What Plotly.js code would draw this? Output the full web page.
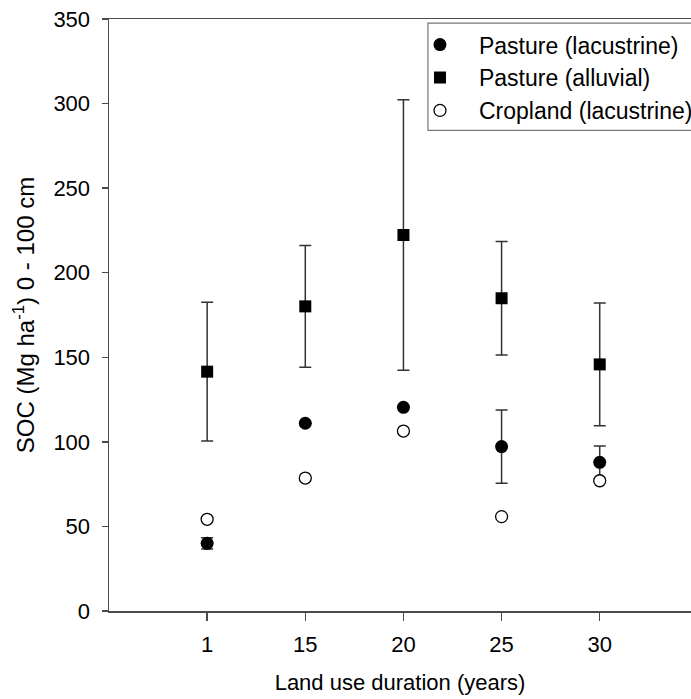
<!DOCTYPE html>
<html>
<head>
<meta charset="utf-8">
<script src="https://cdn.plot.ly/plotly-3.0.1.min.js"></script>
<style>
  html, body { margin: 0; padding: 0; background: #fff; }
  #chart { width: 691px; height: 699px; }
</style>
</head>
<body>
<div id="chart"></div>
<script>
// Land use duration classes (years)
const durations = ["1", "15", "20", "25", "30"];

// SOC stocks, 0-100 cm (Mg ha-1)
const pastureLacustrine = [40, 111, 120.4, 97.2, 87.9];
const pastureLacustrineErr = [3.3, 0, 0, 21.7, 9.7];

const pastureAlluvial = [141.5, 180.1, 222.3, 184.9, 145.8];
const pastureAlluvialErr = [41, 36, 80, 33.5, 36.3];

const croplandLacustrine = [54.2, 78.6, 106.4, 55.8, 77.0];

const seriesNames = ["Pasture (lacustrine)", "Pasture (alluvial)", "Cropland (lacustrine)"];

const FONT = "Liberation Sans, Arial, Helvetica, sans-serif";
const AXIS = "#4a4a4a";

const errStyle = (vals) => ({
  type: "data", array: vals, symmetric: true, visible: true,
  color: "#333333", thickness: 1.5, width: 6
});

const traces = [
  {
    x: durations, y: pastureLacustrine, name: seriesNames[0],
    type: "scatter", mode: "markers",
    marker: { symbol: "circle", size: 13, color: "#000" },
    error_y: errStyle(pastureLacustrineErr)
  },
  {
    x: durations, y: pastureAlluvial, name: seriesNames[1],
    type: "scatter", mode: "markers",
    marker: { symbol: "square", size: 12, color: "#000" },
    error_y: errStyle(pastureAlluvialErr)
  },
  {
    x: durations, y: croplandLacustrine, name: seriesNames[2],
    type: "scatter", mode: "markers",
    marker: { symbol: "circle", size: 12, color: "#fff", line: { color: "#000", width: 1.3 } }
  }
];

const layout = {
  width: 691, height: 699,
  margin: { l: 109, r: 0, t: 19, b: 88, autoexpand: false },
  paper_bgcolor: "#fff", plot_bgcolor: "#fff",
  font: { family: FONT, size: 22, color: "#000" },
  showlegend: true,
  legend: {
    x: 0.5017, y: 0.993, xanchor: "left", yanchor: "top",
    bgcolor: "rgba(0,0,0,0)", borderwidth: 0,
    itemwidth: 68,
    font: { family: FONT, size: 23, color: "#000" }
  },
  xaxis: {
    type: "category",
    range: [-1, 4.93],
    showgrid: false, zeroline: false,
    showline: true, linecolor: AXIS, linewidth: 1.5, mirror: true,
    ticks: "outside", ticklen: 8, tickwidth: 1.5, tickcolor: AXIS,
    ticklabelstandoff: 5,
    tickfont: { family: FONT, size: 22 },
    title: { text: "Land use duration (years)", font: { family: FONT, size: 22 }, standoff: 18 }
  },
  yaxis: {
    range: [0, 350], dtick: 50,
    showgrid: false, zeroline: false,
    showline: true, linecolor: AXIS, linewidth: 1.5, mirror: false,
    ticks: "outside", ticklen: 6, tickwidth: 1.5, tickcolor: AXIS,
    ticklabelstandoff: 7,
    tickfont: { family: FONT, size: 22 },
    title: { text: "SOC (Mg ha<sup>-1</sup>) 0 - 100 cm", font: { family: FONT, size: 24 }, standoff: 12 }
  },
  shapes: [
    {
      type: "rect", xref: "paper", yref: "paper",
      x0: 0.548, x1: 1.2, y0: 0.812, y1: 0.993,
      line: { color: "#777", width: 1.2 }, fillcolor: "rgba(0,0,0,0)", layer: "below"
    }
  ]
};

Plotly.newPlot("chart", traces, layout, { displayModeBar: false, staticPlot: true });
</script>
</body>
</html>
